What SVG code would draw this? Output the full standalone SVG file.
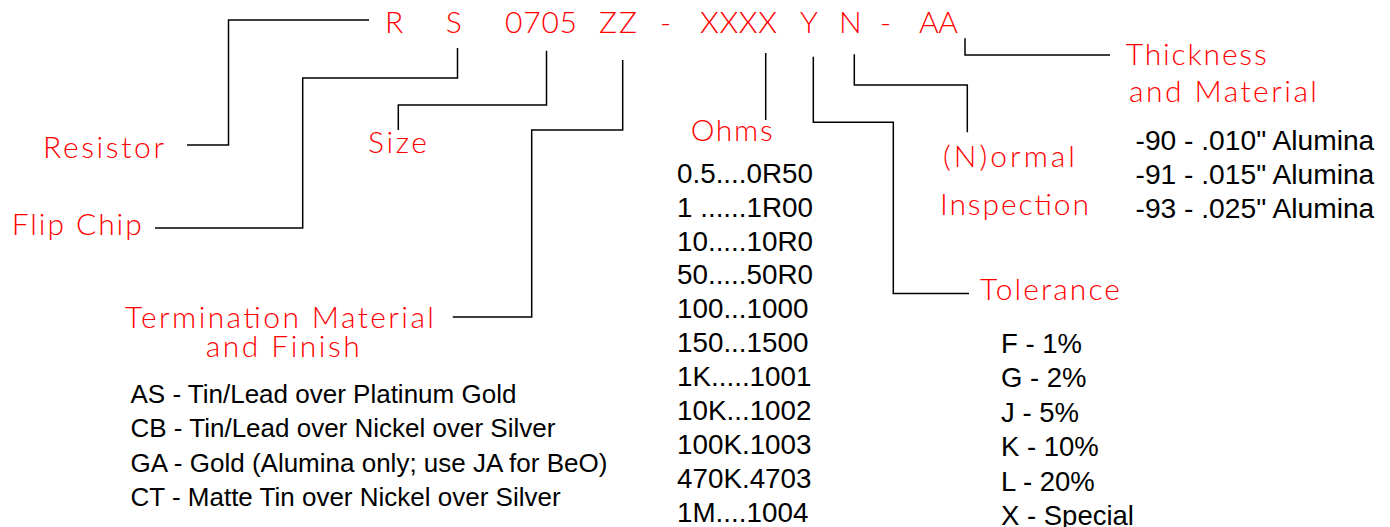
<svg xmlns="http://www.w3.org/2000/svg" width="1390" height="527" viewBox="0 0 1390 527">
<style>
.cad{font-family:Lato,"DejaVu Sans",sans-serif;font-weight:300;font-size:30px;fill:#ff0000;}
.blk{font-family:"Liberation Sans",Arial,sans-serif;fill:#000;}
.con{fill:none;stroke:#000;stroke-width:1.5;}
</style>
<rect width="1390" height="527" fill="#fff"/>
<g id="code">
<text class="cad" x="385" y="33">R</text>
<text class="cad" x="445.7" y="33">S</text>
<text class="cad" x="505" y="33" textLength="72" lengthAdjust="spacing">0705</text>
<text class="cad" x="599" y="33" textLength="38" lengthAdjust="spacing">ZZ</text>
<text class="cad" x="660" y="33">-</text>
<text class="cad" x="700" y="33" textLength="77" lengthAdjust="spacing">XXXX</text>
<text class="cad" x="800" y="33">Y</text>
<text class="cad" x="839" y="33">N</text>
<text class="cad" x="880" y="33">-</text>
<text class="cad" x="919" y="33" textLength="39" lengthAdjust="spacing">AA</text>
</g>
<g id="connectors">
<path class="con" d="M369,20 H228.5 V145 H187"/>
<path class="con" d="M457.5,48 V78 H302.7 V228 H155"/>
<path class="con" d="M546.5,50.7 V105 H398.3 V130"/>
<path class="con" d="M622.7,60 V130 H531.7 V317 H452.7"/>
<path class="con" d="M765.7,53 V120"/>
<path class="con" d="M813.3,56.7 V122.3 H893.3 V293.5 H969"/>
<path class="con" d="M854.3,54.3 V85 H967.3 V132.3"/>
<path class="con" d="M965,38.3 V55 H1110"/>
</g>
<g id="resistor">
<text class="cad" x="43" y="157.7" textLength="121" lengthAdjust="spacing">Resistor</text>
</g>
<g id="flip-chip">
<text class="cad" x="11.7" y="235" textLength="130" lengthAdjust="spacing">Flip Chip</text>
</g>
<g id="size">
<text class="cad" x="368" y="153.3" textLength="59" lengthAdjust="spacing">Size</text>
</g>
<g id="termination">
<text class="cad" x="125" y="327.7" textLength="309" lengthAdjust="spacing">Termination Material</text>
<text class="cad" x="205.7" y="357.3" textLength="154" lengthAdjust="spacing">and Finish</text>
<g class="blk" font-size="26">
<text x="130.5" y="403.3">AS - Tin/Lead over Platinum Gold</text>
<text x="130.5" y="437.3">CB - Tin/Lead over Nickel over Silver</text>
<text x="130.5" y="471.7">GA - Gold (Alumina only; use JA for BeO)</text>
<text x="130.5" y="505.7">CT - Matte Tin over Nickel over Silver</text>
</g>
</g>
<g id="ohms">
<text class="cad" x="690.7" y="140.7" textLength="82" lengthAdjust="spacing">Ohms</text>
<g class="blk" font-size="27.8">
<text x="677" y="182.7">0.5....0R50</text>
<text x="677" y="216.6">1 ......1R00</text>
<text x="677" y="250.5">10.....10R0</text>
<text x="677" y="284.4">50.....50R0</text>
<text x="677" y="318.3">100...1000</text>
<text x="677" y="352.2">150...1500</text>
<text x="677" y="386.1">1K.....1001</text>
<text x="677" y="420">10K...1002</text>
<text x="677" y="453.9">100K.1003</text>
<text x="677" y="487.8">470K.4703</text>
<text x="677" y="521.7">1M....1004</text>
</g>
</g>
<g id="normal-inspection">
<text class="cad" x="943" y="167" textLength="132" lengthAdjust="spacing">(N)ormal</text>
<text class="cad" x="940" y="215" textLength="149" lengthAdjust="spacing">Inspection</text>
</g>
<g id="tolerance">
<text class="cad" x="980" y="300" textLength="140" lengthAdjust="spacing">Tolerance</text>
<g class="blk" font-size="27.5">
<text x="1001" y="352.7">F - 1%</text>
<text x="1001" y="387.2">G - 2%</text>
<text x="1001" y="421.7">J - 5%</text>
<text x="1001" y="456.2">K - 10%</text>
<text x="1001" y="490.7">L - 20%</text>
<text x="1001" y="525.2">X - Special</text>
</g>
</g>
<g id="thickness">
<text class="cad" x="1125.7" y="65" textLength="141" lengthAdjust="spacing">Thickness</text>
<text class="cad" x="1129" y="101.7" textLength="188" lengthAdjust="spacing">and Material</text>
<g class="blk" font-size="28.2">
<text x="1135.5" y="150">-90 - .010" Alumina</text>
<text x="1135.5" y="184">-91 - .015" Alumina</text>
<text x="1135.5" y="218">-93 - .025" Alumina</text>
</g>
</g>
</svg>
